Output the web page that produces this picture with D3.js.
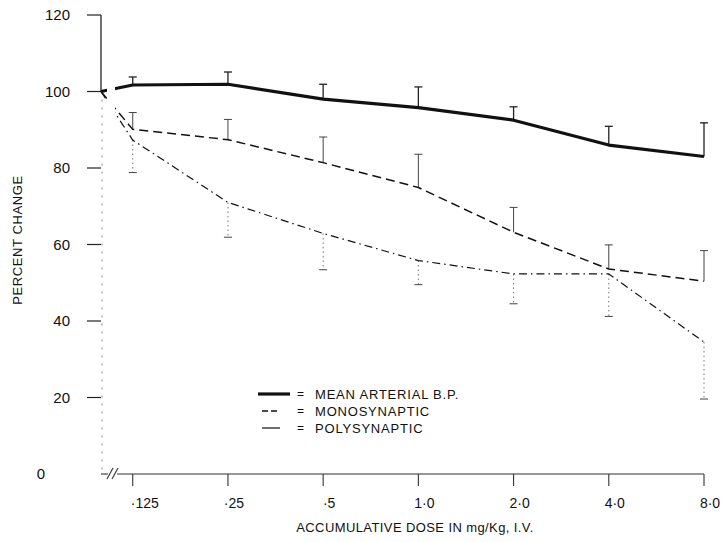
<!DOCTYPE html>
<html>
<head>
<meta charset="UTF-8">
<title>Percent change vs accumulative dose</title>
<style>
  body { margin: 0; background: #fff; }
  svg { display: block; }
  text { font-family: "Liberation Sans", Arial, sans-serif; fill: #111; }
</style>
<script src="https://d3js.org/d3.v7.min.js"></script>
</head>
<body>
<svg id="chart" width="724" height="542"></svg>
<script>
// dose labels (x axis), index 0..6
const doses = ["·125", "·25", "·5", "1·0", "2·0", "4·0", "8·0"];
const yTicks = [0, 20, 40, 60, 80, 100, 120];
const baseline = 100;

// series means
const meanBP = [101.7, 101.9, 98.0, 95.8, 92.5, 86.0, 83.0];
const mono   = [90.1, 87.4, 81.4, 74.9, 63.2, 53.6, 50.4];
const poly   = [87.3, 71.0, 62.9, 55.8, 52.3, 52.3, 34.5];
// error bar ends (upper for BP and mono, lower for poly)
const meanBPErr = [103.8, 105.1, 101.9, 101.2, 96.0, 90.9, 91.8];
const monoErr   = [94.5, 92.7, 88.1, 83.6, 69.7, 59.9, 58.4];
const polyErr   = [78.8, 61.9, 53.4, 49.5, 44.5, 41.2, 19.6];

const legendItems = ["MEAN ARTERIAL B.P.", "MONOSYNAPTIC", "POLYSYNAPTIC"];

const svg = d3.select('#chart');
const x = d3.scaleLinear().domain([-1/3, 6]).range([101, 704]);
const y = d3.scaleLinear().domain([0, 120]).range([474, 15]);

const styles = [
  { w: 3.2, dash: null },
  { w: 1.5, dash: "9,5" },
  { w: 1.2, dash: "8,4,1.5,4" }
];

// y axis
const yAxis = svg.append('g');
yAxis.append('line')
  .attr('x1', x(-1/3)).attr('x2', x(-1/3))
  .attr('y1', y(120)).attr('y2', y(100))
  .attr('stroke', '#222').attr('stroke-width', 1.3);
yAxis.append('line')
  .attr('x1', x(-1/3) + 1).attr('x2', x(-1/3) + 1)
  .attr('y1', y(100)).attr('y2', y(0))
  .attr('stroke', '#888').attr('stroke-width', 1)
  .attr('stroke-dasharray', '2,6');
yAxis.selectAll('line.tick')
  .data(yTicks)
  .join('line')
  .attr('class', 'tick')
  .attr('x1', d => d === 0 ? x(-1/3) : 87).attr('x2', x(-1/3))
  .attr('y1', d => y(d)).attr('y2', d => y(d))
  .attr('stroke', '#222').attr('stroke-width', 1.2);
yAxis.selectAll('text')
  .data(yTicks)
  .join('text')
  .attr('x', d => d === 0 ? 45 : 70)
  .attr('y', d => y(d))
  .attr('dy', '0.36em')
  .attr('text-anchor', 'end')
  .style('font-size', '15px')
  .text(d => d);

svg.append('text')
  .attr('transform', 'translate(22,240) rotate(-90)')
  .attr('text-anchor', 'middle')
  .style('font-size', '13px')
  .style('letter-spacing', '0.6px')
  .text('PERCENT CHANGE');

// x axis with break near origin
const xAxis = svg.append('g').attr('stroke', '#333').attr('stroke-width', 1.1);
xAxis.append('line').attr('x1', x(-1/3)).attr('x2', 108).attr('y1', y(0)).attr('y2', y(0));
xAxis.append('line').attr('x1', 117).attr('x2', x(6)).attr('y1', y(0)).attr('y2', y(0));
[[107, 113], [112, 118]].forEach(([a, b]) => {
  xAxis.append('line').attr('x1', a).attr('x2', b)
    .attr('y1', y(0) + 5).attr('y2', y(0) - 6);
});
xAxis.selectAll('line.tick')
  .data(doses)
  .join('line')
  .attr('class', 'tick')
  .attr('x1', (d, i) => x(i)).attr('x2', (d, i) => x(i))
  .attr('y1', y(0)).attr('y2', y(0) + 12);
svg.append('g').selectAll('text')
  .data(doses)
  .join('text')
  .attr('x', (d, i) => x(i) + (i === 0 ? 12 : 6))
  .attr('y', 508)
  .attr('text-anchor', 'middle')
  .style('font-size', '14px')
  .text(d => d);

svg.append('text')
  .attr('x', 415).attr('y', 532)
  .attr('text-anchor', 'middle')
  .style('font-size', '13px')
  .style('letter-spacing', '0.4px')
  .text('ACCUMULATIVE DOSE IN mg/Kg, I.V.');

// clip for the break between origin and first dose
const defs = svg.append('defs');
const clip = defs.append('clipPath').attr('id', 'brk');
clip.append('rect').attr('x', 95).attr('y', 0).attr('width', 12).attr('height', 542);
clip.append('rect').attr('x', 115).attr('y', 0).attr('width', 620).attr('height', 542);

const series = [meanBP, mono, poly];
const errs = [meanBPErr, monoErr, polyErr];

// error bars
series.forEach((s, k) => {
  const g = svg.append('g')
    .attr('stroke', k === 0 ? '#222' : '#444')
    .attr('stroke-width', k === 0 ? 1.3 : 1);
  s.forEach((v, i) => {
    const e = errs[k][i];
    const bar = g.append('line')
      .attr('x1', x(i)).attr('x2', x(i))
      .attr('y1', y(v)).attr('y2', y(e));
    if (k === 2) bar.attr('stroke', '#777').attr('stroke-dasharray', '1.5,3');
    g.append('line')
      .attr('x1', x(i) - 4).attr('x2', x(i) + 4)
      .attr('y1', y(e)).attr('y2', y(e));
  });
});

// lines
const line = d3.line()
  .x(d => x(d[0]))
  .y(d => y(d[1]));
series.forEach((s, k) => {
  const pts = [[-1/3, baseline]].concat(s.map((v, i) => [i, v]));
  svg.append('path')
    .datum(pts)
    .attr('clip-path', 'url(#brk)')
    .attr('fill', 'none')
    .attr('stroke', '#111')
    .attr('stroke-width', styles[k].w)
    .attr('stroke-linejoin', 'round')
    .attr('stroke-dasharray', styles[k].dash)
    .attr('d', line);
});

// legend
const leg = svg.append('g');
legendItems.forEach((name, k) => {
  const ly = 394 + k * 17;
  leg.append('line')
    .attr('x1', k === 0 ? 258 : 262).attr('x2', k === 0 ? 290 : 280)
    .attr('y1', ly).attr('y2', ly)
    .attr('stroke', '#111')
    .attr('stroke-width', styles[k].w)
    .attr('stroke-dasharray', k === 1 ? '6,3' : null);
  leg.append('text')
    .attr('x', 297).attr('y', ly).attr('dy', '0.36em')
    .style('font-size', '12px')
    .text('=');
  leg.append('text')
    .attr('x', 315).attr('y', ly).attr('dy', '0.36em')
    .style('font-size', '13px')
    .style('letter-spacing', '0.8px')
    .text(name);
});
</script>
</body>
</html>
